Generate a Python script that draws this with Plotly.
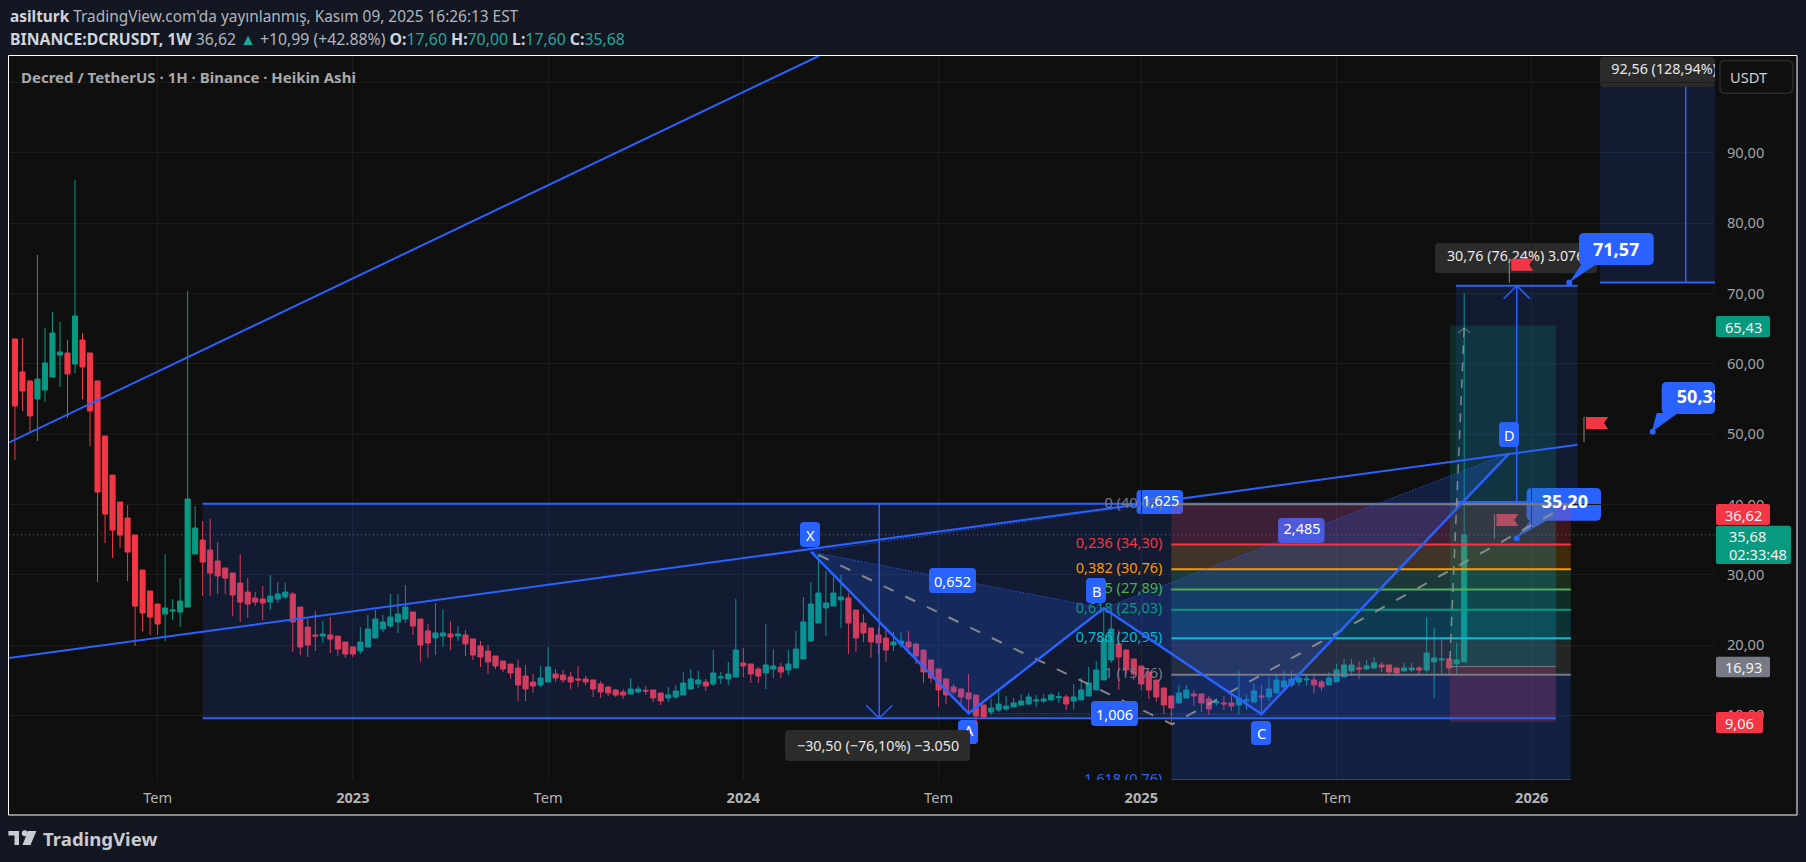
import datetime as dt
import plotly.graph_objects as go

W, H = 1806, 862
L, R, T, B = 9, 1715, 56, 780
FONT = "Noto Sans"
BG, OUT = "#0f0f0f", "#121722"
BLUE, GREEN, RED, GREY = "#2962FF", "#089981", "#F23645", "#787B86"
FIRST_BAR = dt.datetime(2022, 2, 21)

OPEN = [63.53,58.84,57.56,55.0,56.27,58.12,61.25,61.54,59.97,63.39,
 61.54,57.56,49.72,44.18,40.34,38.06,35.64,30.66,27.68,25.83,
 24.4,24.83,24.69,25.4,32.94,34.93,33.51,31.94,30.95,30.24,
 28.81,27.53,26.68,26.54,26.11,26.54,26.82,27.25,25.4,22.55,
 21.42,21.27,21.42,21.27,20.43,19.72,19.15,19.72,21.0,22.28,
 22.71,23.28,23.7,24.7,23.7,22.0,21.0,21.28,21.57,21.28,
 21.43,20.86,19.86,19.15,18.44,17.73,17.3,16.73,15.59,14.74,
 14.31,14.74,15.88,15.74,15.45,15.17,15.17,15.03,14.46,14.03,
 13.6,13.32,13.03,13.32,13.55,13.6,13.18,12.47,12.61,12.89,
 13.74,14.46,14.74,14.46,15.31,15.17,15.45,17.44,17.3,16.59,
 16.02,16.59,16.87,16.45,16.73,18.01,20.57,23.13,25.27,25.55,
 26.41,26.69,24.98,23.13,22.42,21.43,21.0,20.0,20.15,20.43,
 20.15,19.29,17.87,16.59,15.17,14.03,13.75,13.18,12.89,11.47,
 10.47,10.76,10.9,11.19,11.47,11.61,12.04,12.04,12.19,12.5,
 12.61,12.04,12.19,12.75,13.61,15.03,17.87,20.15,19.3,18.01,
 17.02,16.17,15.03,13.89,12.75,11.76,12.47,13.04,13.04,12.33,
 11.76,11.76,11.76,11.47,12.04,11.9,12.75,12.61,13.18,14.03,
 14.32,14.75,15.03,15.03,14.75,14.32,14.75,15.46,16.31,16.74,
 16.6,16.74,17.16,17.16,16.74,16.31,16.45,16.74,16.45,17.59,
 17.87,18.02,17.31,17.6]
CLOSE = [54.0,56.13,52.58,57.84,60.12,64.38,61.68,58.55,66.8,59.55,
 53.29,41.76,38.63,36.35,35.64,33.22,25.54,24.55,23.98,22.98,
 25.26,24.97,26.25,40.76,36.64,31.8,30.24,29.81,29.52,27.11,
 26.11,25.83,26.11,25.97,26.96,27.25,27.53,23.27,19.71,20.0,
 21.27,21.56,20.85,19.42,18.71,18.72,20.43,22.28,23.7,23.28,
 23.99,24.41,25.41,22.71,20.0,20.29,21.71,21.71,21.14,21.57,
 20.15,18.58,18.3,17.59,17.02,16.59,16.02,14.31,13.74,14.17,
 15.31,16.87,15.31,15.03,14.74,15.03,14.74,13.74,13.32,13.18,
 12.89,12.89,13.74,13.74,13.46,12.47,12.04,12.89,13.46,14.6,
 15.17,15.03,14.17,16.02,15.45,15.88,19.29,17.02,15.88,15.59,
 17.16,17.02,16.16,17.3,19.43,23.28,25.84,27.4,25.98,27.4,
 26.83,23.13,21.0,21.71,20.43,20.29,19.29,20.43,20.57,19.72,
 18.44,16.16,15.31,13.61,12.89,13.32,12.61,12.33,9.91,9.76,
 11.04,11.61,11.33,11.76,12.04,12.61,12.19,12.33,12.89,12.66,
 11.61,12.61,13.61,14.6,16.45,20.86,22.28,18.3,16.45,15.88,
 14.46,13.61,12.61,11.47,11.04,13.18,13.61,12.75,11.76,10.9,
 11.9,11.62,11.33,12.47,12.19,13.47,12.61,13.75,15.03,14.89,
 15.17,15.31,15.17,14.32,14.03,15.31,16.45,17.16,17.16,16.6,
 17.02,17.45,16.88,16.17,16.03,16.74,16.74,16.45,18.87,18.16,
 18.02,16.74,17.87,35.68]
HIGH = [63.53,63.67,57.56,75.48,65.09,67.37,65.95,63.39,86.15,64.38,
 61.54,57.56,49.72,44.18,40.34,39.91,35.64,30.66,27.68,25.83,
 32.94,26.54,29.52,70.36,39.77,37.63,37.92,34.65,30.95,30.24,
 32.94,29.52,27.53,28.39,29.95,28.96,28.81,27.53,25.4,23.69,
 24.83,23.41,23.98,21.27,20.43,19.72,22.56,24.27,24.98,24.27,
 27.26,27.26,28.54,24.7,23.7,23.0,25.98,25.12,23.42,22.71,
 22.14,20.86,20.57,20.0,18.44,17.73,17.3,17.87,17.16,15.88,
 17.02,19.72,16.59,16.45,16.16,17.02,15.59,15.03,14.88,14.17,
 13.75,13.75,15.31,14.17,14.17,13.6,13.18,14.03,14.31,16.16,
 16.59,16.31,15.17,19.29,16.16,17.59,26.55,19.58,17.3,16.87,
 22.99,19.43,17.44,19.29,22.0,26.83,28.97,32.95,30.53,29.68,
 29.96,27.35,24.98,24.41,22.42,22.42,22.14,21.85,21.85,22.0,
 20.15,19.29,17.87,16.59,15.17,14.46,13.75,15.88,12.89,11.47,
 12.33,13.46,12.75,12.47,13.04,13.18,12.9,13.04,13.18,13.32,
 12.9,14.46,15.31,16.88,17.73,24.98,24.5,22.14,19.3,18.01,
 17.02,16.17,15.03,13.89,12.75,14.31,14.31,13.61,13.04,12.75,
 12.38,12.75,13.04,16.31,12.9,14.6,14.32,15.46,15.88,16.31,
 16.31,16.17,15.88,15.74,15.03,16.17,17.31,18.02,18.02,17.73,
 17.88,18.3,17.59,17.16,16.74,17.45,17.45,17.02,23.99,22.43,
 21.0,18.02,20.29,70.0]
LOW = [46.32,53.29,50.3,49.02,54.57,58.12,56.7,52.29,58.69,54.99,
 48.31,28.96,34.5,32.37,33.79,29.1,19.85,21.99,21.42,21.42,
 20.56,23.55,22.55,25.4,32.94,26.96,26.96,27.25,27.25,24.12,
 23.27,23.83,25.54,23.55,24.97,25.97,26.54,19.0,18.57,18.29,
 19.14,20.28,18.86,18.43,18.15,18.3,18.72,19.72,21.0,21.85,
 22.42,21.71,23.13,21.43,17.59,18.15,18.58,19.72,19.29,20.57,
 18.44,17.87,16.87,15.88,16.59,16.16,15.17,12.04,12.04,13.18,
 14.03,14.74,14.74,14.6,13.74,14.03,14.31,12.61,12.46,12.75,
 12.61,12.32,13.03,13.18,12.89,11.9,11.47,11.9,12.32,12.89,
 13.74,13.89,13.46,14.17,14.46,14.31,15.45,15.45,14.6,14.6,
 13.74,15.31,15.31,15.74,16.73,18.01,20.57,23.13,21.28,25.55,
 22.42,18.72,19.0,20.43,18.15,18.72,17.59,19.15,19.58,18.72,
 17.3,14.6,14.6,11.19,11.57,13.0,11.33,10.33,8.77,9.48,
 10.05,10.47,10.62,11.19,11.33,11.47,11.19,11.76,12.04,11.76,
 10.76,10.76,12.19,12.75,13.61,15.03,17.45,13.61,15.74,15.03,
 13.61,12.33,11.9,10.19,8.63,11.76,12.47,11.33,10.47,10.05,
 11.33,10.76,10.62,10.19,10.76,11.9,10.19,12.04,13.18,13.61,
 13.94,14.18,14.18,13.04,13.47,14.32,14.75,15.46,15.6,15.17,
 16.45,16.6,16.17,15.74,15.6,16.31,16.17,15.74,16.03,12.47,
 15.74,15.6,15.74,17.6]

Y_TICKS = [10, 20, 30, 40, 50, 60, 70, 80, 90, 100]
Y_TICK_LABELS = ["10,00","20,00","30,00","40,00","50,00","60,00","70,00","80,00","90,00","100,00"]
X_TICKS = ["2022-07-04","2023-01-02","2023-07-03","2024-01-01","2024-07-01","2025-01-06","2025-07-07","2026-01-05"]
X_TICK_LABELS = ["Tem","<b>2023</b>","Tem","<b>2024</b>","Tem","<b>2025</b>","Tem","<b>2026</b>"]

LAST_CLOSE = 35.68
RANGE_BARS = [-0.79, 235]

# drawings: positions along the time scale are in bar numbers, prices in USDT
TREND_UP_BARS, TREND_UP_PRICES = [-0.84, 107.04], [48.78, 103.78]
TREND_LOW_BARS, TREND_LOW_PRICES = [-0.79, 208.1], [18.15, 48.49]

M1_BARS, M1_PRICES, M1_ARROW = [25, 205.2], [40.08, 9.58], 115.1
M2_BARS, M2_PRICES, M2_ARROW = [191.9, 208.1], [40.34, 71.1], 200.0
M3_BARS, M3_PRICES, M3_ARROW = [211.1, 234], [71.57, 99.37], 222.5

FIB_BARS = [154.0, 207.2]
FIB_PRICES = [40.03, 34.30, 30.76, 27.89, 25.03, 20.95, 15.76, 0.76]
FIB_COLORS = [GREY, RED, "#FF9800", "#4CAF50", GREEN, "#00BCD4", GREY, BLUE]
FIB_FILLS = ["rgba(242,54,69,.2)", "rgba(255,152,0,.2)", "rgba(76,175,80,.2)", "rgba(8,153,129,.2)",
             "rgba(0,188,212,.2)", "rgba(120,123,134,.2)", "rgba(41,98,255,.2)"]
FIB_TEXT = ["0 (40,03)", "0,236 (34,30)", "0,382 (30,76)", "0,5 (27,89)", "0,618 (25,03)",
            "0,786 (20,95)", "1 (15,76)", "1,618 (0,76)"]
FIB_TEXT_BAR = 152.8

POS_BARS, POS_TARGET, POS_ENTRY, POS_STOP = [191.1, 205.2], 65.43, 16.93, 9.06

XABCD_BARS = [106, 127, 145, 166, 199]
XABCD_PRICES = [33.27, 10.28, 25.22, 10.18, 47.27]

PATH1_BARS, PATH1_PRICES = [107.04, 154.1, 206.1], [32.8, 8.72, 39.49]
PATH2_BARS, PATH2_PRICES = [191.1, 193.0], [17.87, 65.1]

CALLOUT_BARS, CALLOUT_PRICES = [207.0, 218.1, 200.0], [71.57, 50.33, 35.20]
CALLOUT_TEXT_BARS, CALLOUT_TEXT_PRICES, CALLOUT_TEXT = [224.4, 206.4], [55.13, 40.06], ["50,33", "35,20"]
RATIO_BARS, RATIO_PRICES, RATIO_TEXT = [152.6, 171.4, 127.0], [40.34, 36.29, 7.62], ["1,625", "2,485", "A"]


def d(bar):
    return (FIRST_BAR + dt.timedelta(days=7 * bar)).isoformat()


def ds(bars):
    return [d(b) for b in bars]


fig = go.Figure()


def line(bars, prices, color=BLUE, width=2, dash="solid"):
    fig.add_trace(go.Scatter(x=ds(bars), y=prices, mode="lines", hoverinfo="skip", showlegend=False,
                             line=dict(color=color, width=width, dash=dash)))


def area(bars, prices, color):
    fig.add_trace(go.Scatter(x=ds(bars), y=prices, mode="none", fill="toself", fillcolor=color,
                             hoverinfo="skip", showlegend=False))


def box(bars, lo, hi, color):
    area([bars[0], bars[1], bars[1], bars[0]], [lo, lo, hi, hi], color)


RECT = "rgba(41,98,255,.15)"
line([RANGE_BARS[0], RANGE_BARS[1]], [LAST_CLOSE, LAST_CLOSE], "rgba(8,153,129,.9)", 1, "1px,3px")
box(M1_BARS, M1_PRICES[1], M1_PRICES[0], RECT)
box(M2_BARS, M2_PRICES[0], M2_PRICES[1], RECT)
box(M3_BARS, M3_PRICES[0], M3_PRICES[1], RECT)
for i, c in enumerate(FIB_FILLS):
    box(FIB_BARS, FIB_PRICES[i + 1], FIB_PRICES[i], c)
box(POS_BARS, POS_ENTRY, POS_TARGET, "rgba(8,153,129,.2)")
box(POS_BARS, POS_STOP, POS_ENTRY, "rgba(242,54,69,.2)")
area(XABCD_BARS[:3], XABCD_PRICES[:3], "rgba(41,98,255,.2)")
area(XABCD_BARS[2:], XABCD_PRICES[2:], "rgba(41,98,255,.2)")

fig.add_trace(go.Candlestick(
    x=ds(range(len(OPEN))), open=OPEN, high=HIGH, low=LOW, close=CLOSE, showlegend=False, hoverinfo="skip",
    whiskerwidth=0,
    increasing=dict(line=dict(color=GREEN, width=1), fillcolor=GREEN),
    decreasing=dict(line=dict(color=RED, width=1), fillcolor=RED)))

# trend lines
line(TREND_UP_BARS, TREND_UP_PRICES, BLUE, 2)
line(TREND_LOW_BARS, TREND_LOW_PRICES, BLUE, 2)

# measures
for b, (lo, hi) in [(M1_BARS, (M1_PRICES[1], M1_PRICES[0])), (M2_BARS, (M2_PRICES[0], M2_PRICES[1]))]:
    line(b, [lo, lo], BLUE, 2)
    line(b, [hi, hi], BLUE, 2)
line(M3_BARS, [M3_PRICES[0], M3_PRICES[0]], BLUE, 2)
line([M1_ARROW, M1_ARROW], M1_PRICES, BLUE, 1.5)
line([M1_ARROW - 1.75, M1_ARROW, M1_ARROW + 1.75], [M1_PRICES[1] + 1.85, M1_PRICES[1], M1_PRICES[1] + 1.85], BLUE, 1.5)
line([M2_ARROW, M2_ARROW], M2_PRICES, BLUE, 1.5)
line([M2_ARROW - 1.75, M2_ARROW, M2_ARROW + 1.75], [M2_PRICES[1] - 1.85, M2_PRICES[1], M2_PRICES[1] - 1.85], BLUE, 1.5)
line([M3_ARROW, M3_ARROW], M3_PRICES, BLUE, 1.5)

# fib levels
for p, c in zip(FIB_PRICES, FIB_COLORS):
    line(FIB_BARS, [p, p], c, 2 if p != FIB_PRICES[-1] else 1.5)
fig.add_trace(go.Scatter(x=[d(FIB_TEXT_BAR)] * len(FIB_TEXT), y=FIB_PRICES, text=FIB_TEXT, mode="text",
                         textposition="middle left", textfont=dict(family=FONT, size=14.5, color=FIB_COLORS),
                         hoverinfo="skip", showlegend=False, cliponaxis=True))

# position entry line
line(POS_BARS, [POS_ENTRY, POS_ENTRY], GREY, 1)

# paths
GP = "rgba(150,150,150,.85)"
line(PATH1_BARS, PATH1_PRICES, GP, 2, "11px,13px")
line(PATH2_BARS, PATH2_PRICES, GP, 1.5, "9px,8px")
line([PATH2_BARS[1] - .8, PATH2_BARS[1], PATH2_BARS[1] + .8], [PATH2_PRICES[1] - .7, PATH2_PRICES[1], PATH2_PRICES[1] - .7], GP, 1)

# XABCD
line(XABCD_BARS, XABCD_PRICES, BLUE, 2.5)
for a, b in [(0, 2), (1, 3), (2, 4), (0, 4)]:
    line([XABCD_BARS[a], XABCD_BARS[b]], [XABCD_PRICES[a], XABCD_PRICES[b]], BLUE, 1, "1px,2px")

# callout dots and texts drawn above the "between" boxes
fig.add_trace(go.Scatter(x=ds(CALLOUT_BARS), y=CALLOUT_PRICES, mode="markers", marker=dict(color=BLUE, size=6),
                         hoverinfo="skip", showlegend=False))
fig.add_trace(go.Scatter(x=ds(CALLOUT_TEXT_BARS), y=CALLOUT_TEXT_PRICES, text=[f"<b>{t}</b>" for t in CALLOUT_TEXT],
                         mode="text", textposition="middle center", textfont=dict(family=FONT, size=18, color="white"),
                         hoverinfo="skip", showlegend=False, cliponaxis=True))
fig.add_trace(go.Scatter(x=ds(RATIO_BARS), y=RATIO_PRICES, text=RATIO_TEXT, mode="text", textposition="middle center",
                         textfont=dict(family=FONT, size=14.5, color="white"), hoverinfo="skip", showlegend=False,
                         cliponaxis=True))
fig.add_trace(go.Scatter(x=ds([190.7, 212.6]), y=[75.09, 101.7], text=["30,76 (76,24%) 3.076", "92,56 (128,94%)"],
                         mode="text", textposition="middle right", textfont=dict(family=FONT, size=14.3, color="#e8e8e8"),
                         hoverinfo="skip", showlegend=False, cliponaxis=True))


# ---------- layout furniture (page pixels -> paper fractions) ----------
def px(x):
    return (x - L) / (R - L)


def py(y):
    return (B - y) / (B - T)


shapes, notes = [], []


def path_shape(points, fill, layer="above", close=True, lc=None, lw=0):
    s = "M " + " L ".join(f"{px(x):.5f},{py(y):.5f}" for x, y in points) + (" Z" if close else "")
    shapes.append(dict(type="path", xref="paper", yref="paper", path=s, fillcolor=fill, layer=layer,
                       line=dict(color=lc or fill, width=lw)))


def rbox(x0, y0, x1, y1, fill, layer="above", r=4, lc=None, lw=0):
    X = lambda v: f"{px(v):.5f}"
    Y = lambda v: f"{py(v):.5f}"
    rx, ry = r, r
    s = (f"M {X(x0 + rx)},{Y(y0)} L {X(x1 - rx)},{Y(y0)} Q {X(x1)},{Y(y0)} {X(x1)},{Y(y0 + ry)} "
         f"L {X(x1)},{Y(y1 - ry)} Q {X(x1)},{Y(y1)} {X(x1 - rx)},{Y(y1)} L {X(x0 + rx)},{Y(y1)} "
         f"Q {X(x0)},{Y(y1)} {X(x0)},{Y(y1 - ry)} L {X(x0)},{Y(y0 + ry)} Q {X(x0)},{Y(y0)} {X(x0 + rx)},{Y(y0)} Z")
    shapes.append(dict(type="path", xref="paper", yref="paper", path=s, fillcolor=fill, layer=layer,
                       line=dict(color=lc or fill, width=lw)))


def note(x, y, text, size=13, color="white", anchor="center"):
    notes.append(dict(xref="paper", yref="paper", x=px(x), y=py(y), text=text, showarrow=False, xanchor=anchor,
                      yanchor="middle", align="left", font=dict(family=FONT, size=size, color=color)))


def rect(x0, y0, x1, y1, fill, layer="above", lc=None, lw=0):
    shapes.append(dict(type="rect", xref="paper", yref="paper", x0=px(x0), x1=px(x1), y0=py(y1), y1=py(y0),
                       fillcolor=fill, layer=layer, line=dict(color=lc or fill, width=lw)))


# pane
rect(8.5, 55.5, 1797, 815, BG, "below", "#ffffff", 1)


def flag(xp, ytop, ybot, layer="above"):
    path_shape([(xp, ytop), (xp, ybot)], GREY, layer, close=False, lc="#8a8a8a", lw=1)
    path_shape([(xp + 2, ytop), (xp + 24, ytop), (xp + 20, ytop + 6), (xp + 24, ytop + 12), (xp + 2, ytop + 12)], RED, layer)


# boxes under the drawings
rbox(1278, 518, 1324.5, 543, BLUE, "between")
rbox(1136.5, 490, 1183, 514, BLUE, "between")
rbox(958, 720, 978, 744, BLUE, "between")
rbox(1526.6, 488, 1601, 520.7, BLUE, "between", 5)
path_shape([(1516, 538), (1530.8, 520), (1547.5, 520)], BLUE, "between")
rbox(1661.7, 382, 1715, 414, BLUE, "between", 5)
path_shape([(1651.7, 432), (1656.7, 413), (1678, 413)], BLUE, "between")
rbox(1435, 243, 1597, 273.3, "#2b2b2b", "between")
rbox(1600, 57, 1715, 87, "#2b2b2b", "between")
flag(1494.4, 514, 538.7, "between")

# opaque boxes above the drawings
for (x0, y0, x1, y1, t) in [(800, 522, 820, 547, "X"), (1086, 578, 1106, 603, "B"), (1251, 721, 1271, 745, "C"),
                            (1499, 422, 1519, 447, "D"), (929, 568, 976, 593, "0,652"), (1091, 701, 1138, 726, "1,006")]:
    rbox(x0, y0, x1, y1, BLUE)
    note((x0 + x1) / 2, (y0 + y1) / 2, t, 14.5)
rbox(785, 730, 970, 761, "#2b2b2b")
note(877.5, 745.5, "−30,50 (−76,10%) −3.050", 14.3, "#e8e8e8")
flag(1509.3, 258.7, 283)
flag(1584, 417, 442)
rbox(1579, 233, 1653.7, 265, BLUE, "above", 5)
path_shape([(1568.7, 283), (1581.7, 264), (1596.7, 264)], BLUE)
note(1616, 249, "<b>71,57</b>", 18)

# price axis labels
PL = 14.6
rbox(1716, 504, 1770, 525, RED, r=2)
note(1743, 514.5, "36,62", PL, "#f2f2f2")
rbox(1716, 525.7, 1791, 564, GREEN, r=2)
note(1727, 535.5, "35,68", PL, "#f2f2f2", anchor="left")
note(1727, 553.5, "02:33:48", PL, "#f2f2f2", anchor="left")
rbox(1716, 656.7, 1770, 677.3, GREY, r=2)
note(1743, 667, "16,93", PL, "#f2f2f2")
rbox(1716, 712, 1763, 733, RED, r=2)
note(1739.5, 722.5, "9,06", PL, "#f2f2f2")
rbox(1716, 316, 1770, 337, GREEN, r=2)
note(1743, 326.5, "65,43", PL, "#f2f2f2")
rbox(1720, 60.7, 1792.7, 93.3, BG, r=5, lc="#2a2a2a", lw=1.5)
note(1748.5, 76.7, "USDT", 14.6, "#d0d0d0")

# header
note(8, 16.7, f"<b>asilturk</b> <span style='color:#b2b5be'>TradingView.com'da yayınlanmış, Kasım 09, 2025 16:26:13 EST</span>", 15.4, "#d1d4dc", "left")
TG = "#26a69a"
note(8, 38.7, (f"<b>BINANCE:DCRUSDT, 1W</b> <span style='color:#b2b5be'>36,62</span> "
               f"<span style='color:{TG}'>▲</span> <span style='color:#b2b5be'>+10,99 (+42.88%)</span> "
               f"<b>O:</b><span style='color:{TG}'>17,60</span> <b>H:</b><span style='color:{TG}'>70,00</span> "
               f"<b>L:</b><span style='color:{TG}'>17,60</span> <b>C:</b><span style='color:{TG}'>35,68</span>"), 15.8, "#d1d4dc", "left")
note(19, 76.7, "<b>Decred / TetherUS · 1H · Binance · Heikin Ashi</b>", 15, "#a9a9a9", "left")

# footer logo
LG = "#c8cbd2"
path_shape([(8.4, 831), (19, 831), (19, 845), (14.5, 845), (14.5, 835.5), (8.4, 835.5)], LG)
shapes.append(dict(type="circle", xref="paper", yref="paper", x0=px(21.8), x1=px(27.8), y0=py(836.3), y1=py(830.3),
                   fillcolor=LG, line=dict(width=0), layer="above"))
path_shape([(28, 831), (36.4, 831), (30.5, 845), (22.5, 845)], LG)
note(41, 838, "<b>TradingView</b>", 18.6, LG, "left")

fig.update_layout(
    width=W, height=H, autosize=False,
    margin=dict(l=L, r=W - R, t=T, b=H - B, pad=0),
    paper_bgcolor=OUT, plot_bgcolor=BG, showlegend=False, boxgap=0.2, boxgroupgap=0.15,
    font=dict(family=FONT, size=14, color="#a3a3a3"),
    shapes=shapes, annotations=notes, hovermode=False,
    xaxis=dict(type="date", range=[d(-0.79), d(226.4)], tickmode="array", tickvals=X_TICKS, ticktext=X_TICK_LABELS,
               showgrid=True, gridcolor="#1c1c1e", gridwidth=1, zeroline=False, showline=False, ticks="",
               ticklabelstandoff=7, rangeslider=dict(visible=False), tickfont=dict(size=14.6, color="#b4b4b4")),
    yaxis=dict(side="right", range=[0.8, 103.78], tickmode="array", tickvals=Y_TICKS, ticktext=Y_TICK_LABELS,
               showgrid=True, gridcolor="#1c1c1e", gridwidth=1, zeroline=False, showline=False, ticks="",
               ticklabelstandoff=11, tickfont=dict(size=14.6, color="#a3a3a3")),
)

fig.write_html("out.html", config=dict(displayModeBar=False, staticPlot=True),
               post_script="document.body.style.margin='0';document.body.style.background='#121722';")
